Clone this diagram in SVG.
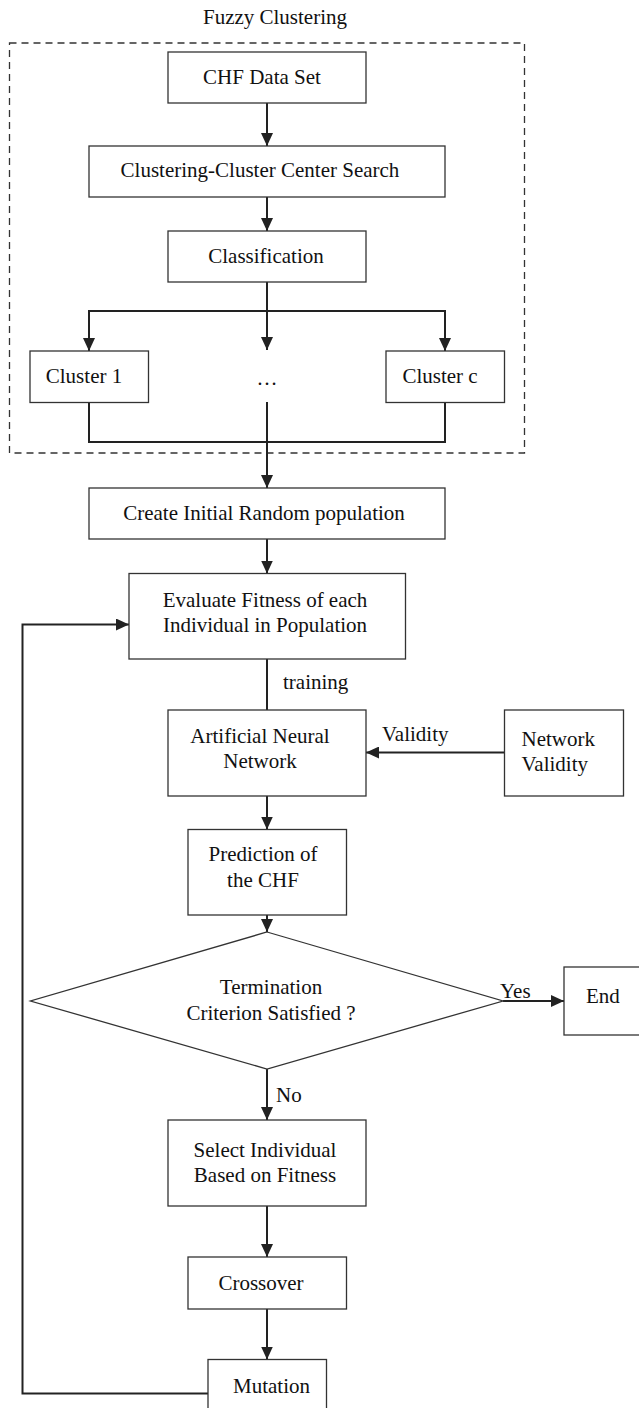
<svg xmlns="http://www.w3.org/2000/svg" width="639" height="1408" viewBox="0 0 639 1408">
<style>
.box{fill:#fff;stroke:#333;stroke-width:1.3}
.ln{fill:none;stroke:#222;stroke-width:2}
.ar{fill:none;stroke:#222;stroke-width:2;marker-end:url(#ah)}
.dash{fill:none;stroke:#333;stroke-width:1.3;stroke-dasharray:7,5}
text{font-family:"Liberation Serif","Times New Roman",serif;font-size:21px;fill:#111}
.c{text-anchor:middle}
</style>
<defs>
<marker id="ah" markerUnits="userSpaceOnUse" markerWidth="13" markerHeight="12" refX="13" refY="6" orient="auto">
<path d="M0,0 L13,6 L0,12 z" fill="#222"/>
</marker>
</defs>
<rect width="639" height="1408" fill="#fff"/>
<g id="fuzzy-group">
<rect class="dash" x="9.5" y="43" width="515" height="410"/>
<text class="c" x="275" y="24">Fuzzy Clustering</text>
</g>
<g id="connectors">
<line class="ar" x1="267" y1="103" x2="267" y2="146"/>
<line class="ar" x1="267" y1="197" x2="267" y2="231"/>
<line class="ln" x1="267" y1="282" x2="267" y2="311"/>
<polyline class="ln" points="89,311 445,311"/>
<line class="ar" x1="89" y1="310" x2="89" y2="351"/>
<line class="ar" x1="445" y1="310" x2="445" y2="351"/>
<line class="ar" x1="267" y1="310" x2="267" y2="350"/>
<polyline class="ln" points="89,402 89,442 445,442 445,402"/>
<line class="ar" x1="267" y1="402" x2="267" y2="488"/>
<line class="ar" x1="267" y1="539" x2="267" y2="573.5"/>
<line class="ln" x1="267" y1="659" x2="267" y2="710"/>
<line class="ar" x1="504" y1="752.5" x2="366" y2="752.5"/>
<line class="ar" x1="267" y1="796" x2="267" y2="829.5"/>
<line class="ar" x1="267" y1="915" x2="267" y2="932"/>
<line class="ar" x1="503" y1="1001" x2="564" y2="1001"/>
<line class="ar" x1="267" y1="1069" x2="267" y2="1120"/>
<line class="ar" x1="267" y1="1206" x2="267" y2="1257"/>
<line class="ar" x1="267" y1="1309" x2="267" y2="1359.5"/>
<polyline class="ar" points="208,1393.5 22.5,1393.5 22.5,624.5 129,624.5"/>
<text x="283" y="689">training</text>
<text x="382" y="741">Validity</text>
<text x="500" y="998">Yes</text>
<text x="276" y="1102">No</text>
</g>
<g id="chf-data-set">
<rect class="box" x="168" y="52" width="198" height="51"/>
<text class="c" x="262" y="84">CHF Data Set</text>
</g>
<g id="cluster-center-search">
<rect class="box" x="89" y="146" width="356" height="51"/>
<text class="c" x="260" y="177">Clustering-Cluster Center Search</text>
</g>
<g id="classification">
<rect class="box" x="168" y="231" width="198" height="51"/>
<text class="c" x="266" y="263">Classification</text>
</g>
<g id="cluster-1">
<rect class="box" x="30" y="351" width="118.5" height="51.5"/>
<text class="c" x="84" y="383">Cluster 1</text>
</g>
<g id="ellipsis">
<text class="c" x="267" y="385">…</text>
</g>
<g id="cluster-c">
<rect class="box" x="386" y="351" width="118.5" height="51.5"/>
<text class="c" x="440" y="383">Cluster c</text>
</g>
<g id="create-population">
<rect class="box" x="89" y="488" width="356" height="51"/>
<text class="c" x="264" y="520">Create Initial Random population</text>
</g>
<g id="evaluate-fitness">
<rect class="box" x="129" y="573.5" width="276.5" height="85.5"/>
<text class="c" x="265" y="607">Evaluate Fitness of each</text>
<text class="c" x="265" y="632">Individual in Population</text>
</g>
<g id="ann">
<rect class="box" x="168" y="710" width="198" height="86"/>
<text class="c" x="260" y="743">Artificial Neural</text>
<text class="c" x="260" y="768">Network</text>
</g>
<g id="network-validity">
<rect class="box" x="504.5" y="710" width="119" height="86"/>
<text x="521.5" y="746">Network</text>
<text x="521.5" y="771">Validity</text>
</g>
<g id="prediction">
<rect class="box" x="188" y="829.5" width="158.5" height="85.5"/>
<text class="c" x="263" y="861">Prediction of</text>
<text class="c" x="263" y="887">the CHF</text>
</g>
<g id="termination">
<polygon class="box" points="267,932 503,1001 267,1069 30.5,1001"/>
<text class="c" x="271" y="994">Termination</text>
<text class="c" x="271" y="1020">Criterion Satisfied ?</text>
</g>
<g id="end">
<rect class="box" x="564" y="967" width="78" height="68"/>
<text x="586" y="1003">End</text>
</g>
<g id="select">
<rect class="box" x="168" y="1120" width="198" height="86"/>
<text class="c" x="265" y="1157">Select Individual</text>
<text class="c" x="265" y="1182">Based on Fitness</text>
</g>
<g id="crossover">
<rect class="box" x="188" y="1257" width="158.5" height="52"/>
<text class="c" x="261" y="1290">Crossover</text>
</g>
<g id="mutation">
<rect class="box" x="208" y="1359.5" width="118.5" height="70"/>
<text class="c" x="271.5" y="1393">Mutation</text>
</g>
</svg>
